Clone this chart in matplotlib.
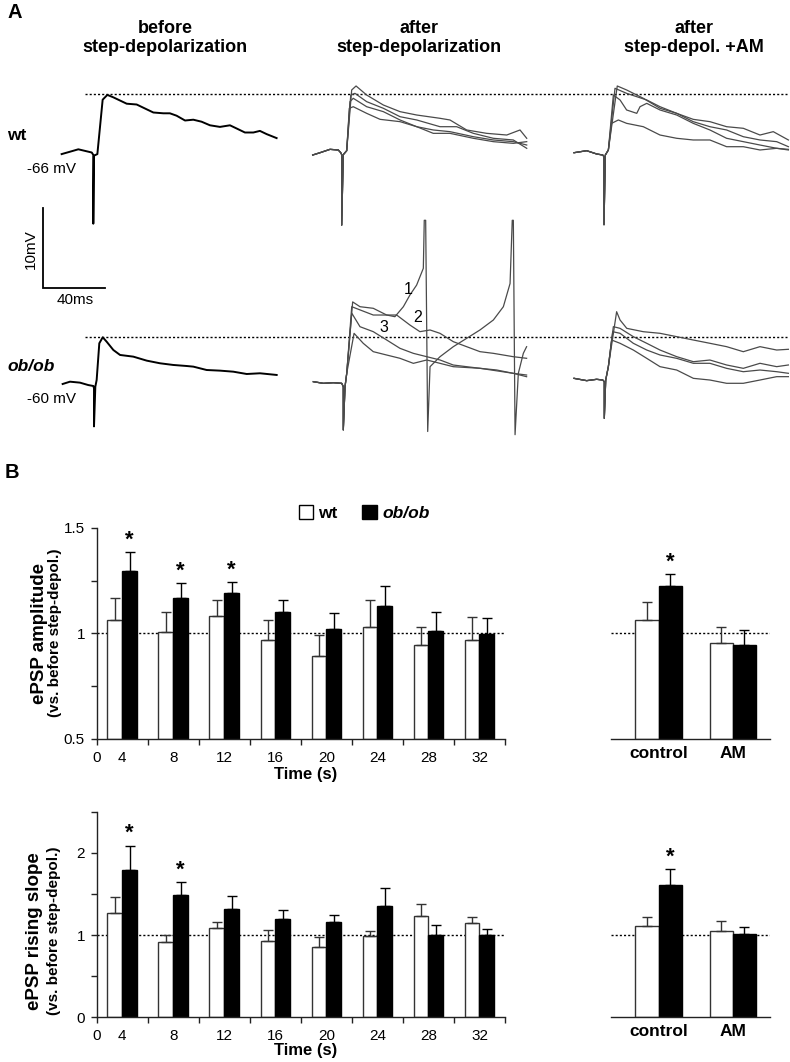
import matplotlib
matplotlib.use('Agg')
import matplotlib.pyplot as plt
from matplotlib.patches import Patch
import numpy as np

plt.rcParams['font.family'] = ['Liberation Sans', 'DejaVu Sans']

W, H = 790, 1062

# ---------------- Panel B data ----------------
time_labels = ['4', '8', '12', '16', '20', '24', '28', '32']

amp_wt = [1.065, 1.006, 1.082, 0.970, 0.891, 1.032, 0.945, 0.967]
amp_wt_err = [0.101, 0.093, 0.074, 0.095, 0.100, 0.124, 0.083, 0.112]
amp_ob = [1.293, 1.169, 1.192, 1.101, 1.019, 1.129, 1.011, 0.998]
amp_ob_err = [0.090, 0.068, 0.052, 0.057, 0.077, 0.095, 0.092, 0.075]
amp_sig = [True, True, True, False, False, False, False, False]

slope_wt = [1.263, 0.915, 1.089, 0.923, 0.854, 0.984, 1.227, 1.142]
slope_wt_err = [0.194, 0.089, 0.073, 0.134, 0.118, 0.069, 0.150, 0.081]
slope_ob = [1.789, 1.486, 1.316, 1.198, 1.154, 1.356, 1.004, 1.004]
slope_ob_err = [0.300, 0.162, 0.154, 0.106, 0.089, 0.215, 0.122, 0.069]
slope_sig = [True, True, False, False, False, False, False, False]

cond_labels = ['control', 'AM']
cond_amp_wt = [1.062, 0.953]
cond_amp_wt_err = [0.088, 0.075]
cond_amp_ob = [1.222, 0.943]
cond_amp_ob_err = [0.060, 0.073]
cond_amp_sig = [True, False]

cond_slope_wt = [1.113, 1.052]
cond_slope_wt_err = [0.105, 0.121]
cond_slope_ob = [1.605, 1.008]
cond_slope_ob_err = [0.193, 0.085]
cond_slope_sig = [True, False]

# ---------------- Panel A data (ms relative to stimulus, mV relative to rest) ----------------
wt_before_t = [-20.3, -14.9, -9.6, -5.3, -1.0, 0, 0, 0.4, 2.6, 6.0, 9.0, 12.8, 17.1, 21.4, 27.8,
               34.2, 38.5, 44.9, 49.1, 53.4, 58.8, 64.1, 69.4, 74.8, 81.2, 87.6, 91.9, 97.2,
               102.6, 106.8, 111.1, 117.5]
wt_before_v = [-0.3, 0, 0.3, 0.1, -0.1, -0.4, -9.0, -0.5, -0.3, 6.5, 7.1, 6.8, 6.4, 6.0, 5.9,
               5.3, 4.9, 4.8, 4.8, 4.5, 3.9, 4.0, 3.75, 3.3, 3.1, 3.3, 2.9, 2.4, 2.4, 2.6, 2.2, 1.7]

wt_after_pre_t = [-18.6, -13.9, -7.5, -2.2, -0.6, 0, 0, 1.0, 3.2]
wt_after_pre_v = [-0.54, -0.25, 0.17, 0.09, -0.25, -0.5, -9.3, -0.5, 0.0]
wt_after_t = [
    [6.4, 9.2, 16.0, 26.7, 37.4, 48.1, 63.0, 69.4, 80.1, 92.9, 105.8, 114.3, 118.6],
    [5.8, 8.5, 16.0, 26.7, 37.4, 48.1, 63.0, 73.7, 84.4, 97.2, 110.0, 118.6],
    [5.3, 7.4, 16.0, 26.7, 37.4, 48.1, 58.7, 69.4, 84.4, 97.2, 110.0, 118.6],
    [4.9, 7.4, 16.0, 24.6, 37.4, 48.1, 58.7, 69.4, 84.4, 97.2, 110.0, 118.6],
]
wt_after_v = [
    [7.59, 8.09, 6.96, 5.71, 4.88, 4.46, 4.05, 3.84, 2.59, 2.17, 1.96, 2.59, 1.55],
    [6.96, 7.17, 6.13, 5.30, 4.25, 3.84, 3.00, 3.00, 2.17, 1.55, 1.34, 0.30],
    [6.13, 6.55, 5.50, 4.88, 3.84, 3.00, 2.59, 2.38, 1.75, 1.34, 1.13, 0.71],
    [5.30, 5.50, 4.67, 3.92, 3.63, 3.00, 2.17, 2.17, 1.55, 1.13, 0.92, 1.13],
]

wt_am_pre_t = [-19.2, -11.1, -4.7, -0.8, 0, 0, 0.85, 2.8]
wt_am_pre_v = [0.0, 0.25, -0.16, -0.29, -0.5, -9.0, -0.29, 0.34]
wt_am_t = [
    [8.5, 14.5, 25.2, 35.9, 46.6, 57.2, 67.9, 78.6, 89.3, 100, 108.5, 118.2],
    [7.05, 14.5, 27.4, 35.9, 46.6, 57.2, 67.9, 78.6, 89.3, 100, 110.7, 118.2],
    [6.0, 10.3, 14.5, 21.0, 23.1, 27.4, 35.9, 46.6, 57.2, 67.9, 78.6, 89.3, 100, 110.7, 118.2],
    [4.9, 9.2, 14.5, 25.2, 35.9, 46.6, 57.2, 67.9, 78.6, 89.3, 100, 110.7, 118.2],
]
wt_am_v = [
    [8.34, 7.84, 6.80, 5.55, 4.92, 4.17, 3.88, 3.25, 3.05, 2.21, 2.63, 1.59],
    [8.05, 7.42, 6.59, 5.75, 4.92, 3.88, 3.25, 2.84, 2.00, 1.59, 1.38, 0.75],
    [7.21, 6.59, 5.34, 4.92, 5.75, 6.17, 5.34, 4.71, 3.67, 2.84, 1.80, 1.38, 0.96, 0.55, 0.34],
    [3.67, 4.09, 3.67, 3.25, 2.21, 1.80, 1.59, 1.59, 0.75, 0.75, 0.34, 0.55, 0.42],
]

ob_before_t = [-20.1, -15.4, -9.0, -3.7, -0.4, 0, 0, 0.85, 1.7, 3.4, 5.6, 8.1, 12.4, 16.7, 25.2,
               33.8, 42.3, 50.8, 59.4, 63.7, 72.2, 80.8, 89.3, 97.9, 106.4, 117.1]
ob_before_v = [0, 0.29, 0.17, -0.13, -0.25, -0.54, -5.3, -0.33, 0.5, 5.09, 5.84, 5.29, 4.25, 3.63,
               3.42, 2.92, 2.59, 2.38, 2.25, 2.17, 1.75, 1.67, 1.54, 1.25, 1.34, 1.13]

ob_after_pre_t = [-19.2, -12.8, -6.4, -1.0, 0, 0, 1.1, 2.2]
ob_after_pre_v = [0.13, -0.08, 0.0, -0.08, -0.5, -5.9, -0.5, 1.17]
ob_after_t = [
    [6.0, 10.7, 19.2, 27.8, 33.1, 38.5, 42.7, 47.0, 51.3, 51.9, 52.8, 54.1, 55.6, 62.0, 70.5,
     79.1, 87.6, 96.2, 102.6, 106.9, 108.3, 109.0, 110.1, 112.2, 115.4, 117.5],
    [5.4, 10.7, 19.2, 27.8, 34.2, 42.7, 49.1, 55.6, 62.0, 70.5, 79.1, 87.6, 96.2, 109.0, 117.5],
    [5.4, 10.7, 19.2, 27.8, 36.3, 44.9, 53.5, 62.0, 70.5, 79.1, 87.6, 98.3, 109.0, 117.5],
    [6.9, 12.8, 19.2, 27.8, 36.3, 44.9, 53.5, 62.0, 70.5, 87.6, 109.0, 117.5],
]
ob_after_v = [
    [10.1, 9.5, 9.3, 8.46, 8.25, 9.5, 10.96, 12.2, 14.3, 20.3, 20.3, -6.1, 2.0, 3.25, 4.5,
     5.55, 6.59, 7.84, 9.5, 12.4, 20.3, 20.3, -6.5, 1.17, 3.67, 4.5],
    [9.5, 9.1, 8.46, 8.46, 8.46, 7.21, 6.38, 6.59, 6.17, 5.13, 4.5, 3.88, 3.67, 3.25, 3.05],
    [8.7, 7.0, 6.38, 5.34, 4.3, 3.67, 3.25, 2.84, 2.21, 2.0, 1.8, 1.59, 1.17, 0.96],
    [6.17, 4.92, 3.88, 3.46, 3.05, 2.42, 2.84, 2.42, 2.0, 1.8, 1.17, 0.75],
]

ob_am_pre_t = [-19.4, -11.3, -4.9, -1.0, 0, 0, 0.9, 2.6]
ob_am_pre_v = [0.12, -0.17, 0.0, -0.09, -0.29, -4.88, -0.09, 1.58]
ob_am_t = [
    [7.9, 10.1, 14.4, 25.0, 35.7, 46.4, 57.1, 67.7, 78.4, 89.1, 99.8, 110.5, 118.0],
    [5.8, 10.1, 18.6, 27.2, 35.7, 46.4, 57.1, 67.7, 78.4, 89.1, 99.8, 110.5, 118.0],
    [5.4, 10.1, 18.6, 27.2, 35.7, 46.4, 57.1, 67.7, 78.4, 89.1, 99.8, 110.5, 118.0],
    [4.7, 10.1, 18.6, 27.2, 35.7, 46.4, 57.1, 67.7, 78.4, 89.1, 99.8, 110.5, 118.0],
]
ob_am_v = [
    [8.45, 7.41, 6.37, 5.95, 5.75, 5.33, 4.91, 4.50, 4.08, 3.45, 4.08, 3.66, 3.75],
    [6.58, 6.37, 5.33, 4.50, 3.66, 2.83, 2.20, 2.41, 1.79, 1.37, 2.00, 1.58, 1.79],
    [5.95, 5.75, 4.50, 3.66, 3.04, 2.62, 2.00, 2.00, 1.37, 0.95, 1.16, 0.95, 0.75],
    [4.91, 4.50, 3.66, 2.62, 1.58, 1.16, 0.12, -0.09, -0.50, -0.50, -0.09, 0.33, 0.33],
]

# ---------------- helpers ----------------
def rect(x0, y0, x1, y1):
    return [x0 / W, 1 - y1 / H, (x1 - x0) / W, (y1 - y0) / H]

def fx(x):
    return x / W

def fy(y):
    return 1 - y / H

fig = plt.figure(figsize=(W / 100, H / 100), dpi=100)

# ================= Panel A =================
PX_PER_MS = 1.56
PX_PER_MV = 8.0
A_H = 460
axA = fig.add_axes(rect(0, 0, W, A_H))
axA.set_xlim(0, W / PX_PER_MS)
axA.set_ylim(0, A_H / PX_PER_MV)
axA.axis('off')

def origin(xpx, ypx):
    return xpx / PX_PER_MS, (A_H - ypx) / PX_PER_MV

org = {
    'wt_before': origin(93.3, 151.7),
    'wt_after': origin(341.7, 150.7),
    'wt_am': origin(604.0, 152.7),
    'ob_before': origin(94.0, 384.0),
    'ob_after': origin(343.3, 382.7),
    'ob_am': origin(604.3, 379.3),
}

def draw(key, t, v, color, lw, z=3):
    t0, v0 = org[key]
    axA.plot(np.array(t) + t0, np.array(v) + v0, color=color, lw=lw, zorder=z,
             solid_joinstyle='round')

draw('wt_before', wt_before_t, wt_before_v, 'black', 1.4)
draw('ob_before', ob_before_t, ob_before_v, 'black', 1.4)

for key, pre_t, pre_v, tr_t, tr_v in [
        ('wt_after', wt_after_pre_t, wt_after_pre_v, wt_after_t, wt_after_v),
        ('wt_am', wt_am_pre_t, wt_am_pre_v, wt_am_t, wt_am_v),
        ('ob_after', ob_after_pre_t, ob_after_pre_v, ob_after_t, ob_after_v),
        ('ob_am', ob_am_pre_t, ob_am_pre_v, ob_am_t, ob_am_v)]:
    for tt, vv in zip(tr_t, tr_v):
        draw(key, pre_t + tt, pre_v + vv, '#4a4a4a', 0.9)

# dotted reference lines at the control peak
for ypx in (94.0, 336.7):
    _, vv = origin(0, ypx)
    axA.plot([85 / PX_PER_MS, 787 / PX_PER_MS], [vv, vv], color='black', lw=1.0,
             ls=(0, (1.5, 1.5)), zorder=2)

# scale bar 10 mV / 40 ms
sb_t, sb_v = origin(42.7, 288.0)
axA.plot([sb_t, sb_t, sb_t + 40], [sb_v + 10, sb_v, sb_v], color='black', lw=1.3,
         solid_joinstyle='miter')
fig.text(fx(31), fy(249), '10mV', rotation=90, ha='center', va='center', fontsize=11)
fig.text(fx(75), fy(300), '40ms', ha='center', va='center', fontsize=11)

# trace numbers
fig.text(fx(407.7), fy(290), '1', ha='center', va='center', fontsize=11.5)
fig.text(fx(417.3), fy(318), '2', ha='center', va='center', fontsize=11.5)
fig.text(fx(384.3), fy(328), '3', ha='center', va='center', fontsize=11.5)

# titles & labels
fig.text(fx(7), fy(13), 'A', ha='left', va='center', fontsize=14.5, fontweight='bold')
for xc, label in [(165, 'before\nstep-depolarization'),
                  (419, 'after\nstep-depolarization'),
                  (694, 'after\nstep-depol. +AM')]:
    fig.text(fx(xc), fy(38), label, ha='center', va='center', fontsize=13,
             fontweight='bold', linespacing=1.1)
fig.text(fx(7), fy(135), 'wt', ha='left', va='center', fontsize=12.5, fontweight='bold')
fig.text(fx(27), fy(169), '-66 mV', ha='left', va='center', fontsize=11)
fig.text(fx(7), fy(367), 'ob/ob', ha='left', va='center', fontsize=12.5, fontweight='bold',
         style='italic')
fig.text(fx(27), fy(399), '-60 mV', ha='left', va='center', fontsize=11)

# ================= Panel B =================
fig.text(fx(5), fy(473), 'B', ha='left', va='center', fontsize=14.5, fontweight='bold')

BW = 0.29
EDGE = '#222222'

def style_left(ax, ylim, yticks, ylabels, xlabel_y):
    ax.set_xlim(0, 8)
    ax.set_ylim(*ylim)
    for s in ('top', 'right'):
        ax.spines[s].set_visible(False)
    for s in ('left', 'bottom'):
        ax.spines[s].set_color(EDGE)
        ax.spines[s].set_linewidth(1.0)
    ax.set_yticks(yticks)
    ax.set_yticklabels(ylabels)
    ax.set_xticks(np.arange(0, 9))
    ax.set_xticklabels(['0'] + [''] * 8)
    ax.set_xticks(np.arange(8) + 0.5, minor=True)
    ax.set_xticklabels(time_labels, minor=True)
    ax.tick_params(axis='both', which='major', direction='out', length=4, width=1.0,
                   color=EDGE, labelsize=11, pad=4.5)
    ax.tick_params(axis='x', which='major', pad=4.5)
    ax.tick_params(axis='x', which='minor', length=0, labelsize=11, pad=8.5)
    fig.text(fx(306), fy(xlabel_y), 'Time (s)', ha='center', va='center', fontsize=12,
             fontweight='bold')

def draw_bars(ax, xc, wt, wt_err, ob, ob_err, sig, base):
    xc = np.asarray(xc, dtype=float)
    wt = np.asarray(wt); ob = np.asarray(ob)
    ax.axhline(1.0, color='black', lw=1.0, ls=(0, (1.5, 1.5)), zorder=1)
    ax.bar(xc - BW / 2, wt - base, BW, bottom=base, color='white', edgecolor='#333333',
           lw=1.0, zorder=2)
    ax.bar(xc + BW / 2, ob - base, BW, bottom=base, color='black', edgecolor='black',
           lw=1.0, zorder=2)
    z = np.zeros(len(xc))
    ax.errorbar(xc - BW / 2, wt, yerr=[z, wt_err], fmt='none', ecolor='#333333',
                elinewidth=1.0, capsize=3.5, capthick=1.0, zorder=3)
    ax.errorbar(xc + BW / 2, ob, yerr=[z, ob_err], fmt='none', ecolor='black',
                elinewidth=1.0, capsize=3.5, capthick=1.0, zorder=3)
    for xi, yi, ei, s in zip(xc, ob, ob_err, sig):
        if s:
            ax.annotate('*', (xi + BW / 2, yi + ei), xytext=(0, 1), textcoords='offset points',
                        ha='center', va='bottom', fontsize=16, fontweight='bold')

def style_right(ax, ylim):
    ax.set_xlim(0, 2)
    ax.set_ylim(*ylim)
    for s in ('top', 'right', 'left'):
        ax.spines[s].set_visible(False)
    ax.spines['bottom'].set_color(EDGE)
    ax.spines['bottom'].set_linewidth(1.0)
    ax.set_yticks([])
    ax.set_xticks(cond_x)
    ax.set_xticklabels(cond_labels, fontsize=12.5, fontweight='bold')
    ax.tick_params(axis='x', length=0, pad=5)

grp_x = np.arange(8) + 0.5
cond_x = [0.6, 1.53]

# amplitude
ax1 = fig.add_axes(rect(96.7, 527.7, 505, 739))
draw_bars(ax1, grp_x, amp_wt, amp_wt_err, amp_ob, amp_ob_err, amp_sig, 0.5)
style_left(ax1, (0.5, 1.5), [0.5, 0.75, 1.0, 1.25, 1.5], ['0.5', '', '1', '', '1.5'], 774)
ax1r = fig.add_axes(rect(610.7, 527.7, 770.3, 739))
draw_bars(ax1r, cond_x, cond_amp_wt, cond_amp_wt_err, cond_amp_ob, cond_amp_ob_err,
          cond_amp_sig, 0.5)
style_right(ax1r, (0.5, 1.5))

fig.text(fx(40), fy(633), 'ePSP amplitude', rotation=90, ha='center', va='center',
         fontsize=13.5, fontweight='bold')
fig.text(fx(55), fy(633), '(vs. before step-depol.)', rotation=90, ha='center', va='center',
         fontsize=11, fontweight='bold')

leg = ax1.legend(handles=[Patch(fc='white', ec='black', lw=1.0), Patch(fc='black', ec='black')],
                 labels=['wt', 'ob/ob'], ncol=2, frameon=False, loc='center',
                 bbox_to_anchor=(fx(364), fy(513)), bbox_transform=fig.transFigure,
                 handlelength=0.85, handleheight=0.9, handletextpad=0.3, columnspacing=1.4,
                 prop={'weight': 'bold', 'size': 12.5})
leg.get_texts()[1].set_style('italic')

# slope
ax2 = fig.add_axes(rect(96.7, 811.7, 505, 1017.3))
draw_bars(ax2, grp_x, slope_wt, slope_wt_err, slope_ob, slope_ob_err, slope_sig, 0.0)
style_left(ax2, (0, 2.5), [0, 0.5, 1.0, 1.5, 2.0, 2.5], ['0', '', '1', '', '2', ''], 1051)
ax2r = fig.add_axes(rect(610.7, 811.7, 770.3, 1017.3))
draw_bars(ax2r, cond_x, cond_slope_wt, cond_slope_wt_err, cond_slope_ob, cond_slope_ob_err,
          cond_slope_sig, 0.0)
style_right(ax2r, (0, 2.5))

fig.text(fx(35), fy(931), 'ePSP rising slope', rotation=90, ha='center', va='center',
         fontsize=13.5, fontweight='bold')
fig.text(fx(54), fy(931), '(vs. before step-depol.)', rotation=90, ha='center', va='center',
         fontsize=11, fontweight='bold')

fig.savefig('out.png', dpi=100)
